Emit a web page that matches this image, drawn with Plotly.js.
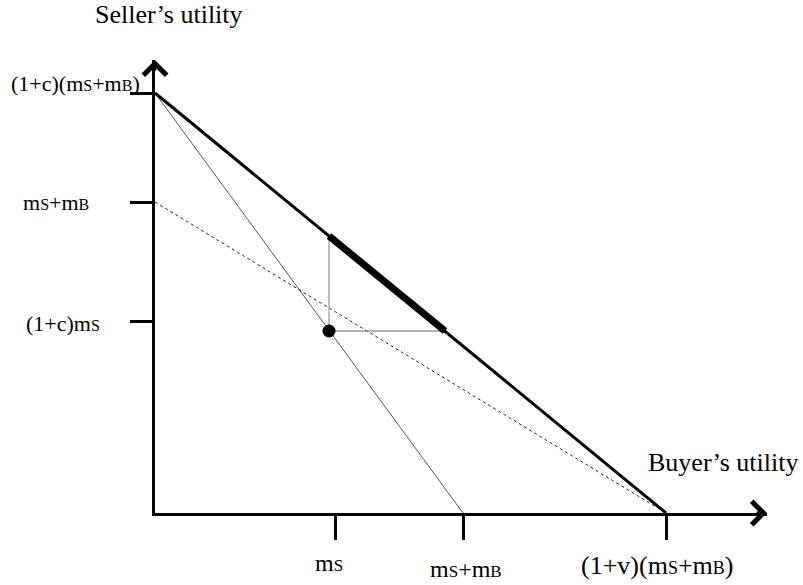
<!DOCTYPE html>
<html>
<head>
<meta charset="utf-8">
<script src="https://cdn.plot.ly/plotly-3.0.1.min.js"></script>
<style>html,body{margin:0;padding:0;background:#fff;}#chart{width:803px;height:585px;}</style>
</head>
<body>
<div id="chart"></div>
<script>
// Values in drawing units (origin at the axes' corner)
const sub = (t, s) => '<span style="font-size:' + s + 'px">' + t + '</span>';
const xTickVals = [180, 308, 511];
const yTickVals = [420, 311, 192];
const xTickText = ['m' + sub('S', 17), 'm' + sub('S', 17) + '+m' + sub('B', 17), '(1+v)(m' + sub('S', 18) + '+m' + sub('B', 18) + ')'];
const yTickText = ['(1+c)(m' + sub('S', 16) + '+m' + sub('B', 16) + ')', 'm' + sub('S', 16) + '+m' + sub('B', 16), '(1+c)m' + sub('S', 16)];

const frontierX = [0, 511];
const frontierY = [420, 0];
const thinX = [0, 308];
const thinY = [420, 0];
const dottedX = [0, 511];
const dottedY = [311, 0];
const pointX = [174];
const pointY = [182];
const vertX = [174, 174];
const vertY = [182, 277];
const horizX = [174, 290];
const horizY = [182, 182];
const thickX = [174, 290];
const thickY = [277, 182];

const xMax = 612, yMax = 453;
const FONT = 'Liberation Serif, Times New Roman, serif';

const traces = [
  {x: thinX, y: thinY, mode: 'lines', line: {color: '#555', width: 1}, cliponaxis: false},
  {x: dottedX, y: dottedY, mode: 'lines', line: {color: '#222', width: 1, dash: 'dot'}, cliponaxis: false},
  {x: vertX, y: vertY, mode: 'lines', line: {color: '#aaa', width: 1.5}, cliponaxis: false},
  {x: horizX, y: horizY, mode: 'lines', line: {color: '#666', width: 1}, cliponaxis: false},
  {x: frontierX, y: frontierY, mode: 'lines', line: {color: '#000', width: 3}, cliponaxis: false},
  {x: thickX, y: thickY, mode: 'lines', line: {color: '#000', width: 7}, cliponaxis: false},
  {x: pointX, y: pointY, mode: 'markers', marker: {color: '#000', size: 13}, cliponaxis: false}
];

// label positions given in the same drawing units, converted to paper fractions
const lbl = (x, y, text, size) => ({xref: 'paper', yref: 'paper', x: x / xMax, y: y / yMax, text: text,
  font: {size: size}, showarrow: false, xanchor: 'center', yanchor: 'middle'});

const annotations = [
  lbl(14, 498, 'Seller’s utility', 26),
  lbl(568, 51, 'Buyer’s utility', 26),
  lbl(-79, 430, yTickText[0], 22),
  lbl(-99, 311, yTickText[1], 22),
  lbl(-92, 190, yTickText[2], 22),
  lbl(174, -50, xTickText[0], 24),
  lbl(311, -56, xTickText[1], 24),
  lbl(502, -52, xTickText[2], 26)
];

annotations.push(
  {xref: 'x', yref: 'y', x: xMax, y: 0, ax: -12, ay: 0, text: '', showarrow: true,
   arrowhead: 4, arrowsize: 1.5, arrowwidth: 3, arrowcolor: '#000', standoff: 0},
  {xref: 'x', yref: 'y', x: 0, y: yMax, ax: 0, ay: 12, text: '', showarrow: true,
   arrowhead: 4, arrowsize: 1.5, arrowwidth: 3, arrowcolor: '#000', standoff: 0}
);

const axisCommon = {
  showgrid: false, zeroline: false, showline: true, linecolor: '#000', linewidth: 3,
  ticks: 'outside', tickwidth: 3, tickcolor: '#000', showticklabels: false, fixedrange: true
};

const layout = {
  width: 803, height: 585,
  margin: {l: 155, r: 36, t: 60, b: 72, pad: 0},
  paper_bgcolor: '#fff', plot_bgcolor: '#fff',
  showlegend: false,
  font: {family: FONT, color: '#000'},
  xaxis: Object.assign({}, axisCommon, {range: [0, xMax], tickmode: 'array', tickvals: xTickVals, ticklen: 24}),
  yaxis: Object.assign({}, axisCommon, {range: [0, yMax], tickmode: 'array', tickvals: yTickVals, ticklen: 22}),
  annotations: annotations
};

Plotly.newPlot('chart', traces, layout, {displayModeBar: false, staticPlot: true});
</script>
</body>
</html>
